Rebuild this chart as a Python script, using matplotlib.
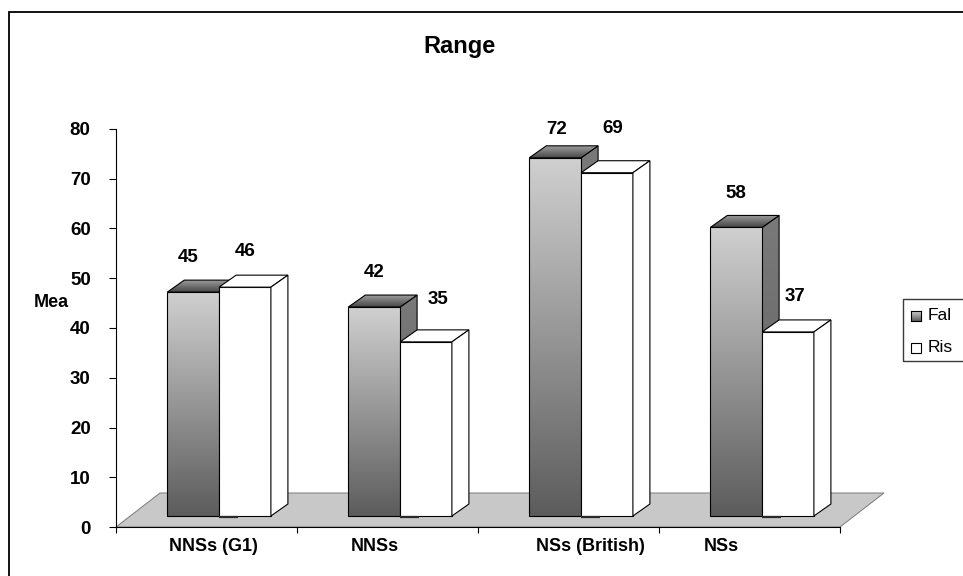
import numpy as np
import matplotlib
matplotlib.use('Agg')
import matplotlib.pyplot as plt
from matplotlib.patches import Polygon, Rectangle
from matplotlib.colors import LinearSegmentedColormap

plt.rcParams['font.family'] = ['Liberation Sans', 'DejaVu Sans']

categories = ['NNSs (G1)', 'NNSs', 'NSs (British)', 'NSs']
fal = [45, 42, 72, 58]
ris = [46, 35, 69, 37]
series_names = ['Fal', 'Ris']
yticks = [0, 10, 20, 30, 40, 50, 60, 70, 80]

W, H = 963, 576
PX, PY = 181.0, 4.975          # pixels per category / per unit

# pseudo-3D geometry (data units)
bar_x0 = 51.3 / PX
bar_w = 51.8 / PX
base = 11 / PY
ddx, ddy = 17 / PX, 12 / PY
floor_dx, floor_dy = 44 / PX, 34 / PY

# label placement: category label centres and value-label offsets (px)
cat_label_x = [0.541, 1.430, 2.623, 3.345]
fal_off = [(-5, 30), (0, 30), (1, 24), (0, 29)]
ris_off = [(0, 31), (12, 38), (6, 40), (7, 31)]

fig = plt.figure(figsize=(W / 100, H / 100), dpi=100)
ax = fig.add_axes([116 / W, 1 - 527 / H, 724 / W, 398 / H])

zc = [3]


def nextz():
    zc[0] += 1
    return zc[0]


def grad_poly(pts, c_low, c_high, edge='black', lw=0.8):
    z = nextz()
    poly = Polygon(pts, closed=True, facecolor='none', edgecolor='none')
    ax.add_patch(poly)
    xs = [p[0] for p in pts]
    ys = [p[1] for p in pts]
    cmap = LinearSegmentedColormap.from_list('g', [c_low, c_high])
    grad = np.linspace(0, 1, 256).reshape(-1, 1)
    im = ax.imshow(grad, cmap=cmap, origin='lower', aspect='auto',
                   interpolation='bilinear', zorder=z,
                   extent=(min(xs), max(xs), min(ys), max(ys)))
    im.set_clip_path(poly)
    ax.add_patch(Polygon(pts, closed=True, facecolor='none', edgecolor=edge,
                         lw=lw, zorder=z + 0.5, joinstyle='miter'))


def flat_poly(pts, color, edge='black', lw=0.8):
    ax.add_patch(Polygon(pts, closed=True, facecolor=color, edgecolor=edge,
                         lw=lw, zorder=nextz(), clip_on=False, joinstyle='miter'))


def faces(x0, h):
    x1 = x0 + bar_w
    y0, y1 = base, base + h
    front = [(x0, y0), (x1, y0), (x1, y1), (x0, y1)]
    top = [(x0, y1), (x1, y1), (x1 + ddx, y1 + ddy), (x0 + ddx, y1 + ddy)]
    side = [(x1, y0), (x1 + ddx, y0 + ddy), (x1 + ddx, y1 + ddy), (x1, y1)]
    return front, top, side


# floor
flat_poly([(0, 0), (4, 0), (4 + floor_dx, floor_dy), (floor_dx, floor_dy)],
          '#c8c8c8', edge='#7a7a7a', lw=0.7)

for i in range(len(categories)):
    xf = i + bar_x0
    front, top, side = faces(xf, fal[i])
    grad_poly(side, '#5e5e5e', '#7a7a7a')
    grad_poly(top, '#474747', '#9c9c9c')
    grad_poly(front, '#5c5c5c', '#d0d0d0')

    xr = xf + bar_w
    front, top, side = faces(xr, ris[i])
    flat_poly(front, 'white')
    flat_poly(top, 'white')
    flat_poly(side, 'white')
    ax.plot([xr, xr + ddx * 1.1], [base - 0.25, base - 0.25], color='#2a2a2a',
            lw=1.6, solid_capstyle='butt', zorder=nextz(), clip_on=False)

    # value labels
    for x0, v, (ox, oy) in ((xf, fal[i], fal_off[i]), (xr, ris[i], ris_off[i])):
        ax.annotate(f'{v}', xy=(x0 + bar_w / 2, base + v),
                    xytext=(ox * 0.72, oy * 0.72), textcoords='offset points',
                    ha='center', va='baseline', fontsize=13.5, fontweight='bold',
                    zorder=50)

ax.set_xlim(0, 4)
ax.set_ylim(0, 80)

for s in ('top', 'right'):
    ax.spines[s].set_visible(False)
for s in ('left', 'bottom'):
    ax.spines[s].set_linewidth(0.8)
    ax.spines[s].set_zorder(40)

ax.set_yticks(yticks)
ax.set_yticklabels([str(t) for t in yticks], fontsize=13.5, fontweight='bold')
ax.tick_params(axis='y', direction='out', length=5, width=0.8, pad=13.2)
ax.set_xticks([0, 1, 2, 3, 4])
ax.set_xticklabels([])
ax.tick_params(axis='x', direction='out', length=4.3, width=0.8)

for x, lab in zip(cat_label_x, categories):
    ax.annotate(lab, xy=(x, 0), xycoords=('data', 'axes fraction'),
                xytext=(0, -23.7 * 0.72), textcoords='offset points',
                ha='center', va='baseline', fontsize=13, fontweight='bold')

fig.text(51 / W, 1 - 307.3 / H, 'Mea', ha='center', va='baseline',
         fontsize=13, fontweight='bold')
fig.text(459.5 / W, 1 - 53.3 / H, 'Range', ha='center', va='baseline',
         fontsize=17, fontweight='bold')

# legend
fig.add_artist(Rectangle((903 / W, 1 - 361 / H), 80 / W, 62 / H,
                         transform=fig.transFigure, fill=False,
                         edgecolor='#3a3a3a', lw=1.0))
lax = fig.add_axes([910.7 / W, 1 - 321 / H, 10 / W, 10 / H])
lax.imshow(np.linspace(0, 1, 64).reshape(-1, 1), origin='lower', aspect='auto',
           cmap=LinearSegmentedColormap.from_list('lg', ['#5c5c5c', '#d0d0d0']))
lax.set_xticks([])
lax.set_yticks([])
for s in lax.spines.values():
    s.set_linewidth(0.8)
fig.add_artist(Rectangle((910.7 / W, 1 - 352.7 / H), 10 / W, 10 / H,
                         transform=fig.transFigure, facecolor='white',
                         edgecolor='black', lw=0.8))
fig.text(928 / W, 1 - 320 / H, series_names[0], ha='left', va='baseline', fontsize=12.5)
fig.text(928 / W, 1 - 351.7 / H, series_names[1], ha='left', va='baseline', fontsize=12.5)

# chart-area border
fig.add_artist(Rectangle((8.5 / W, -0.1), 1.2, 1 - 11.5 / H + 0.1,
                         transform=fig.transFigure, fill=False,
                         edgecolor='black', lw=1.3))

fig.savefig('out.png', dpi=100)
